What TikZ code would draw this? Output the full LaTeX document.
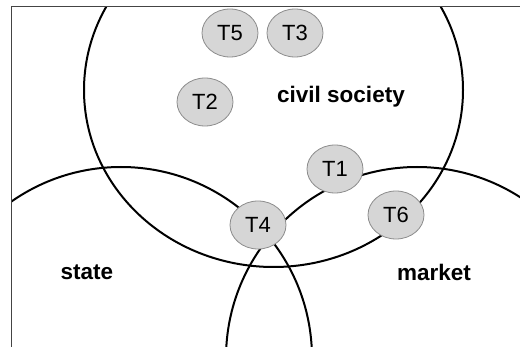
\documentclass[tikz,border=0pt]{standalone}
\usepackage{fontspec}
\setmainfont{Liberation Sans}
\usetikzlibrary{shapes.geometric}
\definecolor{topicfill}{HTML}{D6D6D6}
\definecolor{topicline}{HTML}{8C8C8C}
\definecolor{framecol}{HTML}{444444}
\begin{document}
\begin{tikzpicture}[x=1pt,y=-1pt,
  topic/.style={ellipse, draw=topicline, fill=topicfill, minimum width=56pt, minimum height=48pt, inner sep=0pt, line width=0.8pt, font=\fontsize{22}{24}\selectfont},
  sector/.style={font=\fontsize{22.5}{24}\selectfont\bfseries},
  ring/.style={line width=2pt, black},
  framestyle/.style={line width=1pt, framecol}]
\useasboundingbox (0,0) rectangle (520,347);
\begin{scope}
  \clip (11,7) rectangle (520,347);
  \draw[ring] (273.5,90) ellipse[x radius=189.5pt, y radius=177pt];
  \draw[ring] (121,358) circle[radius=191pt];
  \draw[ring] (417,358) circle[radius=191pt];
\end{scope}
\draw[framestyle] (11,347) -- (11,7) -- (520,7);
\node[topic] (t5) at (230,33) {T5};
\node[topic] (t3) at (295,33) {T3};
\node[topic] (t2) at (205,102) {T2};
\node[topic] (t1) at (335,169) {T1};
\node[topic] (t4) at (258,225) {T4};
\node[topic] (t6) at (396,215) {T6};
\node[sector] (civ) at (341,97) {civil society};
\node[sector] (sta) at (87,272) {state};
\node[sector] (mkt) at (434,272) {market};
\end{tikzpicture}
\end{document}
